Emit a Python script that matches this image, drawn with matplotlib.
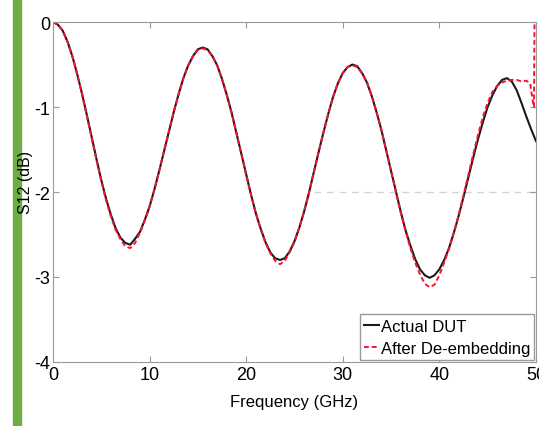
import matplotlib.pyplot as plt
from matplotlib.patches import Rectangle

plt.rcParams['font.family'] = ['Liberation Sans', 'DejaVu Sans']
plt.rcParams['axes.unicode_minus'] = False

# S12 (dB) every 0.5 GHz
freq_dut = [i / 2 for i in range(101)]          # 0 ... 50 GHz
s12_dut = [
    0.0, -0.03, -0.10, -0.23, -0.40, -0.61, -0.84, -1.09, -1.35, -1.61,      # 0 - 4.5
    -1.86, -2.08, -2.27, -2.43, -2.54, -2.60, -2.62, -2.55, -2.47, -2.33,    # 5 - 9.5
    -2.17, -1.97, -1.75, -1.52, -1.29, -1.06, -0.85, -0.66, -0.51, -0.40,    # 10 - 14.5
    -0.32, -0.30, -0.32, -0.40, -0.51, -0.67, -0.86, -1.07, -1.31, -1.55,    # 15 - 19.5
    -1.79, -2.03, -2.25, -2.43, -2.59, -2.71, -2.78, -2.80, -2.78, -2.70,    # 20 - 24.5
    -2.58, -2.42, -2.23, -2.01, -1.77, -1.53, -1.30, -1.08, -0.88, -0.72,    # 25 - 29.5
    -0.60, -0.53, -0.50, -0.52, -0.60, -0.71, -0.87, -1.06, -1.27, -1.51,    # 30 - 34.5
    -1.75, -1.99, -2.23, -2.45, -2.63, -2.79, -2.91, -2.98, -3.01, -2.98,    # 35 - 39.5
    -2.91, -2.80, -2.66, -2.48, -2.28, -2.06, -1.83, -1.60, -1.38, -1.18,    # 40 - 44.5
    -1.00, -0.86, -0.75, -0.68, -0.66, -0.70, -0.80, -0.95, -1.11, -1.26,    # 45 - 49.5
    -1.40,                                                                   # 50
]

freq_deemb = [i / 2 for i in range(99)] + [49.4, 49.7, 49.8, 49.85]
s12_deemb = [
    0.0, -0.03, -0.10, -0.23, -0.40, -0.61, -0.84, -1.10, -1.36, -1.62,      # 0 - 4.5
    -1.87, -2.10, -2.29, -2.45, -2.56, -2.64, -2.66, -2.60, -2.48, -2.34,    # 5 - 9.5
    -2.17, -1.97, -1.75, -1.52, -1.29, -1.06, -0.85, -0.66, -0.51, -0.40,    # 10 - 14.5
    -0.33, -0.31, -0.33, -0.40, -0.51, -0.67, -0.86, -1.07, -1.31, -1.55,    # 15 - 19.5
    -1.80, -2.03, -2.25, -2.44, -2.60, -2.72, -2.81, -2.85, -2.81, -2.71,    # 20 - 24.5
    -2.59, -2.42, -2.23, -2.01, -1.77, -1.53, -1.30, -1.08, -0.88, -0.72,    # 25 - 29.5
    -0.60, -0.53, -0.51, -0.53, -0.60, -0.71, -0.87, -1.06, -1.27, -1.51,    # 30 - 34.5
    -1.75, -2.00, -2.24, -2.46, -2.66, -2.83, -2.97, -3.08, -3.12, -3.09,    # 35 - 39.5
    -2.98, -2.83, -2.67, -2.48, -2.27, -2.04, -1.80, -1.56, -1.33, -1.12,    # 40 - 44.5
    -0.95, -0.82, -0.75, -0.71, -0.69, -0.68, -0.68, -0.70, -0.69,           # 45 - 49
    -0.72, -0.95, -1.00, 0.0,                                                # 49.4 - 49.85
]

x_ticks = [0, 10, 20, 30, 40, 50]
y_ticks = [0, -1, -2, -3, -4]

fig = plt.figure(figsize=(5.39, 4.27), dpi=100)
ax = fig.add_axes([0.0983, 0.150, 0.896, 0.796])

# green bar at the left edge of the slide
fig.patches.append(Rectangle((0.024, 0), 0.015, 1, transform=fig.transFigure,
                             color='#70ad47', zorder=-1))

# faint leftover grid line
ax.axhline(-2, xmin=0.54, xmax=1, color='#d4d4d4', lw=1, ls=(0, (5, 4)), zorder=0)

ax.plot(freq_dut, s12_dut, color='#1a1a1a', lw=1.5, label='Actual DUT')
ax.plot(freq_deemb, s12_deemb, color='#ff1030', lw=1.4, ls=(0, (2.5, 1.5)),
        label='After De-embedding')

ax.set_xlim(0, 50)
ax.set_ylim(-4, 0)
ax.set_xticks(x_ticks)
ax.set_yticks(y_ticks)
ax.tick_params(direction='in', length=4, labelsize=13, color='#999999',
               top=True, right=True, pad=3)
ax.tick_params(axis='y', pad=2)
for s in ax.spines.values():
    s.set_color('#999999')

ax.set_xlabel('Frequency (GHz)', fontsize=12)
ax.set_ylabel('S12 (dB)', fontsize=11.5)
ax.xaxis.set_label_coords(0.5, -0.095)
ax.yaxis.set_label_coords(-0.041, 0.53)

leg = ax.legend(loc='lower right', fontsize=12, handlelength=0.9,
                handletextpad=0.1, labelspacing=0.45, borderpad=0.25,
                borderaxespad=0.1, fancybox=False, framealpha=1)
leg.get_frame().set_edgecolor('#999999')

fig.savefig('out.png', dpi=100)
